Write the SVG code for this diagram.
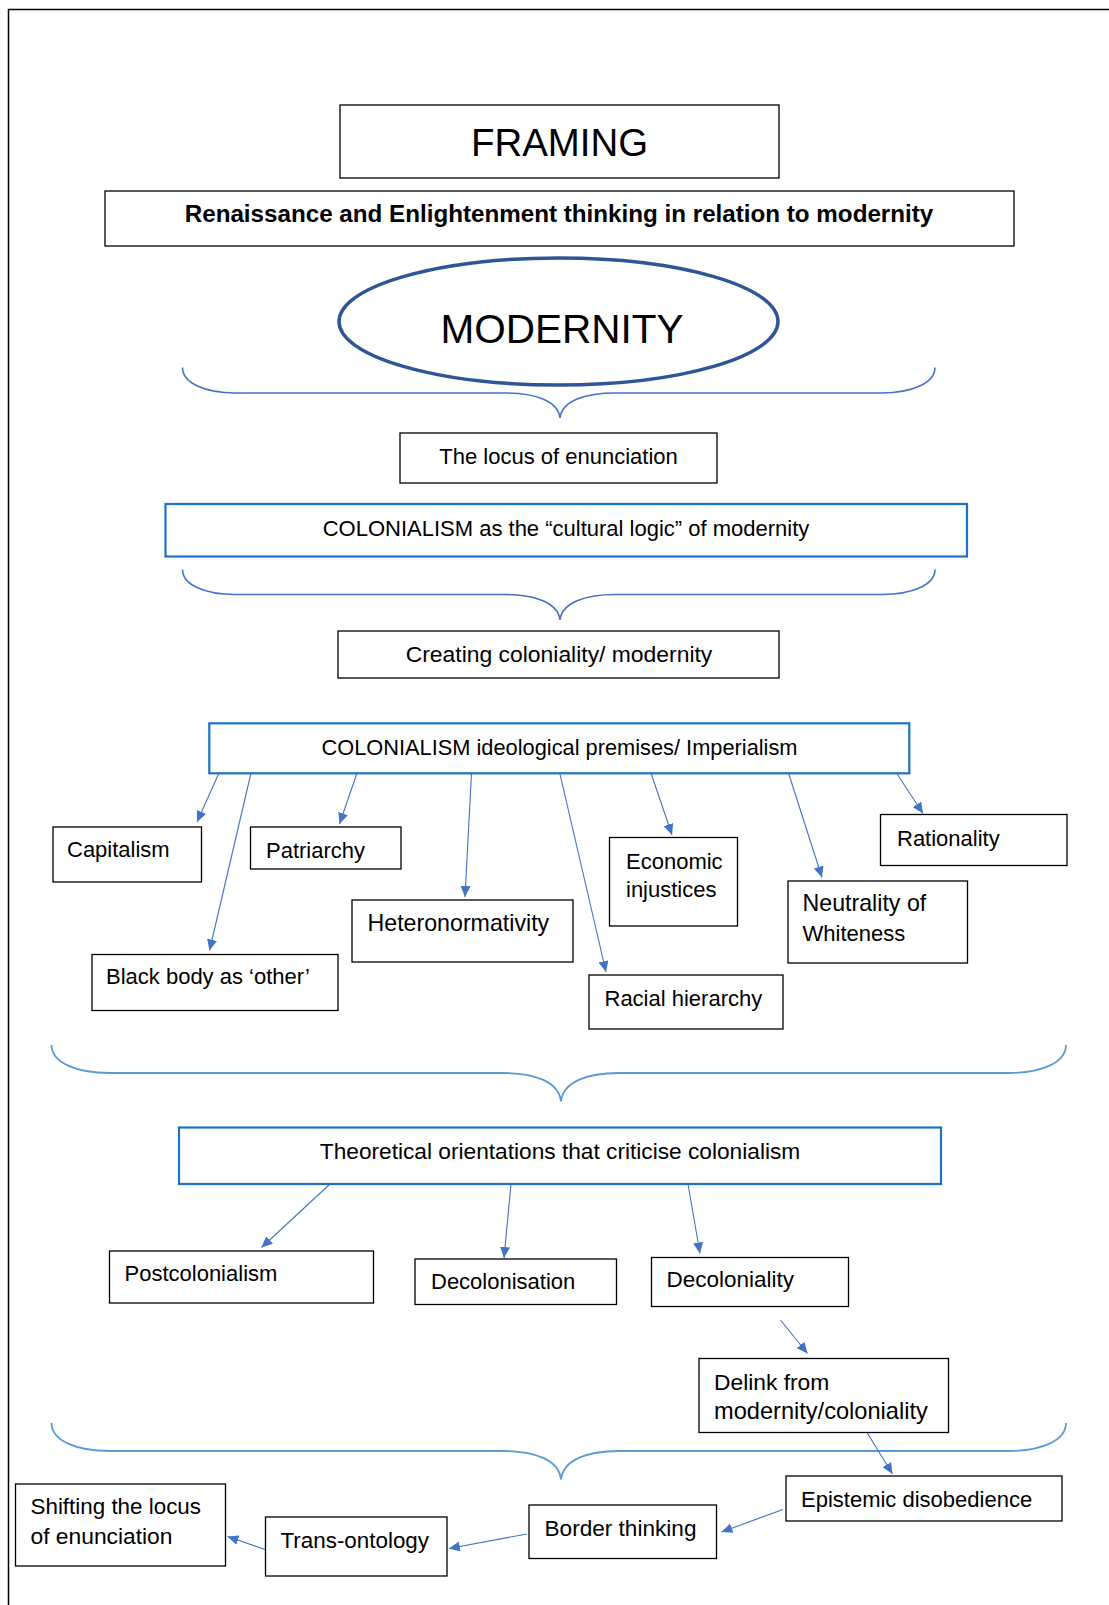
<svg xmlns="http://www.w3.org/2000/svg" width="1109" height="1605" viewBox="0 0 1109 1605">
  <defs>
    <style>
      .box { fill: #ffffff; stroke: #000000; stroke-width: 1.3; }
      .bluebox { fill: #ffffff; stroke: #1b72c6; stroke-width: 2.2; }
      .t { font-family: "Liberation Sans", Arial, sans-serif; font-size: 22px; fill: #000000; }
      .c { text-anchor: middle; }
      .arrow { fill: none; stroke: #4472c4; stroke-width: 1.1; marker-end: url(#ah); }
      .brace { fill: none; stroke: #4472c4; stroke-width: 1.6; }
      .brace-light { fill: none; stroke: #5b9bd5; stroke-width: 1.8; }
    </style>
    <marker id="ah" viewBox="0 0 11 10" refX="11" refY="5" markerWidth="11" markerHeight="10" markerUnits="userSpaceOnUse" orient="auto">
      <path d="M0,0 L11,5 L0,10 z" fill="#4472c4"/>
    </marker>
  </defs>

  <rect x="0" y="0" width="1109" height="1605" fill="#ffffff"/>
  <!-- page frame (left and top edges) -->
  <path d="M8.5,1605 V9.5 H1109" fill="none" stroke="#000000" stroke-width="1.5"/>

  <!-- curly braces -->
  <g id="braces">
    <path class="brace" d="M182.5,367.5 C182.5,383 205,393 235,393 L505,393 C533,393 558,400 560,418 C562,400 587,393 615,393 L882,393 C912,393 935,383 935,367.5"/>
    <path class="brace" d="M182.5,569.5 C182.5,585 205,594.5 235,594.5 L505,594.5 C533,594.5 558,602 560,620 C562,602 587,594.5 615,594.5 L882,594.5 C912,594.5 935,585 935,569.5"/>
    <path class="brace-light" d="M51.5,1045 C51.5,1062 75,1073 110,1073 L503,1073 C535,1073 559,1082 561,1101.5 C563,1082 587,1073 619,1073 L1008,1073 C1043,1073 1066,1062 1066,1045"/>
    <path class="brace-light" d="M51.5,1423 C51.5,1440 75,1451 110,1451 L503,1451 C535,1451 559,1460 561,1479.5 C563,1460 587,1451 619,1451 L1008,1451 C1043,1451 1066,1440 1066,1423"/>
  </g>

  <!-- connectors -->
  <g id="connectors">
    <line class="arrow" x1="219" y1="773" x2="197" y2="822"/>
    <line class="arrow" x1="251" y1="773" x2="209.5" y2="950.5"/>
    <line class="arrow" x1="357" y1="773" x2="339.5" y2="824"/>
    <line class="arrow" x1="471.5" y1="773" x2="465" y2="897"/>
    <line class="arrow" x1="559.5" y1="772" x2="606" y2="972"/>
    <line class="arrow" x1="651" y1="773" x2="672" y2="835"/>
    <line class="arrow" x1="788.5" y1="773" x2="822" y2="877.5"/>
    <line class="arrow" x1="896.5" y1="773" x2="923" y2="813.5"/>
    <line class="arrow" x1="330" y1="1184" x2="261.5" y2="1247.5"/>
    <line class="arrow" x1="511" y1="1184" x2="504" y2="1258"/>
    <line class="arrow" x1="688" y1="1184" x2="700" y2="1253.5"/>
    <line class="arrow" x1="780.5" y1="1320" x2="807.5" y2="1353.5"/>
    <line class="arrow" x1="867" y1="1432.5" x2="892.5" y2="1474"/>
    <line class="arrow" x1="783" y1="1509.5" x2="721.5" y2="1532"/>
    <line class="arrow" x1="527" y1="1534" x2="449" y2="1548.5"/>
    <line class="arrow" x1="265" y1="1549.5" x2="227.5" y2="1536.5"/>
  </g>

  <g id="framing">
    <rect class="box" x="340" y="105" width="439" height="73"/>
    <text class="t c" x="559.5" y="155.5" style="font-size:38.4px">FRAMING</text>
  </g>

  <g id="renaissance">
    <rect class="box" x="105" y="191" width="909" height="55"/>
    <text class="t c" x="559" y="221.5" style="font-size:24.2px;font-weight:bold">Renaissance and Enlightenment thinking in relation to modernity</text>
  </g>

  <g id="modernity">
    <ellipse cx="558.5" cy="321.5" rx="219.5" ry="63.5" fill="#ffffff" stroke="#2f5597" stroke-width="3.5"/>
    <text class="t c" x="562" y="343" style="font-size:40.5px">MODERNITY</text>
  </g>

  <g id="locus">
    <rect class="box" x="400" y="433" width="317" height="50"/>
    <text class="t c" x="558.5" y="464">The locus of enunciation</text>
  </g>

  <g id="colonialism-logic">
    <rect class="bluebox" x="165.5" y="504" width="801.5" height="52.5"/>
    <text class="t c" x="566" y="536">COLONIALISM as the “cultural logic” of modernity</text>
  </g>

  <g id="creating">
    <rect class="box" x="338" y="631" width="441" height="47"/>
    <text class="t c" x="559" y="662" style="font-size:22.9px">Creating coloniality/ modernity</text>
  </g>

  <g id="ideological">
    <rect class="bluebox" x="209.3" y="723.3" width="700" height="50"/>
    <text class="t c" x="559.5" y="755" style="font-size:21.8px">COLONIALISM ideological premises/ Imperialism</text>
  </g>

  <g id="capitalism">
    <rect class="box" x="53" y="827" width="148.5" height="55"/>
    <text class="t" x="67" y="857">Capitalism</text>
  </g>

  <g id="patriarchy">
    <rect class="box" x="250.5" y="827" width="150.5" height="42"/>
    <text class="t" x="266" y="858">Patriarchy</text>
  </g>

  <g id="heteronormativity">
    <rect class="box" x="352" y="900" width="221" height="62"/>
    <text class="t" x="367.5" y="931" style="font-size:23.2px">Heteronormativity</text>
  </g>

  <g id="economic">
    <rect class="box" x="609.5" y="837.5" width="128" height="88.5"/>
    <text class="t" x="626" y="868.5">Economic</text>
    <text class="t" x="626" y="897">injustices</text>
  </g>

  <g id="rationality">
    <rect class="box" x="880.5" y="814.5" width="186.5" height="51"/>
    <text class="t" x="897" y="846">Rationality</text>
  </g>

  <g id="neutrality">
    <rect class="box" x="788" y="881" width="179.5" height="82"/>
    <text class="t" x="802.5" y="911" style="font-size:23.2px">Neutrality of</text>
    <text class="t" x="802.5" y="941">Whiteness</text>
  </g>

  <g id="black-body">
    <rect class="box" x="92" y="954.5" width="246" height="56"/>
    <text class="t" x="106" y="984">Black body as ‘other’</text>
  </g>

  <g id="racial">
    <rect class="box" x="589" y="975" width="194" height="54"/>
    <text class="t" x="604.5" y="1005.5">Racial hierarchy</text>
  </g>

  <g id="theoretical">
    <rect class="bluebox" x="179" y="1127.5" width="762" height="56.5"/>
    <text class="t c" x="560" y="1158.5" style="font-size:22.7px">Theoretical orientations that criticise colonialism</text>
  </g>

  <g id="postcolonialism">
    <rect class="box" x="109.5" y="1251" width="264" height="52"/>
    <text class="t" x="124.5" y="1281">Postcolonialism</text>
  </g>

  <g id="decolonisation">
    <rect class="box" x="415" y="1259" width="201.5" height="45.5"/>
    <text class="t" x="431" y="1288.5">Decolonisation</text>
  </g>

  <g id="decoloniality">
    <rect class="box" x="651.5" y="1257.5" width="197" height="49"/>
    <text class="t" x="666.5" y="1287" style="font-size:22.5px">Decoloniality</text>
  </g>

  <g id="delink">
    <rect class="box" x="699" y="1358.5" width="249.5" height="74"/>
    <text class="t" x="714" y="1389.5" style="font-size:22.8px">Delink from</text>
    <text class="t" x="714" y="1418.5" style="font-size:23.6px">modernity/coloniality</text>
  </g>

  <g id="epistemic">
    <rect class="box" x="786" y="1476" width="276" height="45"/>
    <text class="t" x="801" y="1507">Epistemic disobedience</text>
  </g>

  <g id="border-thinking">
    <rect class="box" x="529" y="1505" width="187.5" height="53.5"/>
    <text class="t" x="544.5" y="1535.5" style="font-size:22.6px">Border thinking</text>
  </g>

  <g id="trans-ontology">
    <rect class="box" x="265.5" y="1517" width="181.5" height="59"/>
    <text class="t" x="280.5" y="1547.5" style="font-size:22.4px">Trans-ontology</text>
  </g>

  <g id="shifting">
    <rect class="box" x="15.5" y="1484" width="210" height="82"/>
    <text class="t" x="30.5" y="1514" style="font-size:22.4px">Shifting the locus</text>
    <text class="t" x="30.5" y="1544" style="font-size:22.8px">of enunciation</text>
  </g>
</svg>
